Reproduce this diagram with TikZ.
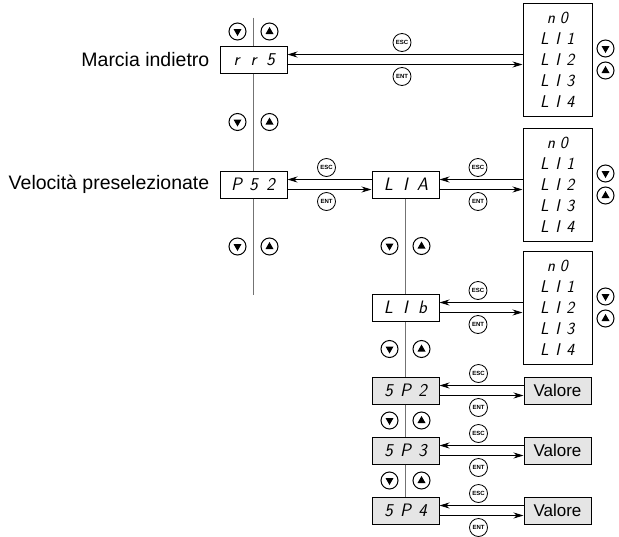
\documentclass[tikz,border=0pt]{standalone}
\usepackage{fontspec}
\setmainfont{Liberation Sans}
\usetikzlibrary{positioning,calc,arrows.meta}

\makeatletter
\newcommand\seg[2][17pt]{\@tfor\segch:=#2\do{\makebox[#1]{\segch}}}
\makeatother

\begin{document}
\begin{tikzpicture}[x=1pt, y=-1pt,
  disp/.style={draw, line width=1pt, minimum width=67pt, minimum height=27pt, inner sep=0pt, font=\sffamily\slshape\fontsize{18}{20}\selectfont},
  spbox/.style={disp, fill=black!10},
  lst/.style={draw, line width=1pt, minimum width=69pt, minimum height=113pt, inner sep=0pt, align=center, font=\sffamily\slshape\fontsize{17}{21}\selectfont},
  val/.style={draw, line width=1pt, fill=black!10, minimum width=67pt, minimum height=27pt, inner sep=0pt, font=\fontsize{17}{19}\selectfont},
  lbl/.style={inner sep=0pt, font=\fontsize{19.5}{22}\selectfont},
  btn/.style={circle, draw, line width=.8pt, minimum size=18pt, inner sep=0pt, font=\bfseries\fontsize{6}{6}\selectfont},
  keydn/.style={circle, draw, line width=1pt, minimum size=17pt, inner sep=0pt,
    path picture={\fill ([shift={(-4pt,2.5pt)}]path picture bounding box.center) -- ++(8pt,0pt) -- ++(-4pt,-7pt) -- cycle;}},
  keyup/.style={circle, draw, line width=1pt, minimum size=17pt, inner sep=0pt,
    path picture={\fill ([shift={(-4pt,-2.5pt)}]path picture bounding box.center) -- ++(8pt,0pt) -- ++(-4pt,7pt) -- cycle;}},
  arr/.style={-{Stealth[length=10pt,width=6pt]}, line width=.8pt},
  vline/.style={draw=black!55, line width=1pt}
]
\useasboundingbox (0,0) rectangle (619,536);

\node[disp] (rrs) at (253.5,59.5) {\seg{rr5}};
\node[disp, below=97pt of rrs] (ps2) {\seg{P52}};
\node[disp, right=84pt of ps2] (lia) {\seg{LIA}};
\node[disp, below=95pt of lia] (lib) {\seg{LIb}};
\node[spbox, below=55pt of lib] (sp2) {\seg{5P2}};
\node[spbox, below=32pt of sp2] (sp3) {\seg{5P3}};
\node[spbox, below=32pt of sp3] (sp4) {\seg{5P4}};

\node[lst, right=83pt of lia] (lst2) {\seg[13pt]{n0}\\\seg[13pt]{LI1}\\\seg[13pt]{LI2}\\\seg[13pt]{LI3}\\\seg[13pt]{LI4}};
\node[lst] (lst1) at (lst2 |- rrs) {\seg[13pt]{n0}\\\seg[13pt]{LI1}\\\seg[13pt]{LI2}\\\seg[13pt]{LI3}\\\seg[13pt]{LI4}};
\node[lst, right=83pt of lib] (lst3) {\seg[13pt]{n0}\\\seg[13pt]{LI1}\\\seg[13pt]{LI2}\\\seg[13pt]{LI3}\\\seg[13pt]{LI4}};

\node[val, right=84pt of sp2] (v2) {Valore};
\node[val, right=84pt of sp3] (v3) {Valore};
\node[val, right=84pt of sp4] (v4) {Valore};

\node[lbl, left=10pt of rrs] (lblrrs) {Marcia indietro};
\node[lbl, left=10pt of ps2] (lblps2) {Velocità preselezionate};

\coordinate[above=28pt of rrs] (t1);
\coordinate[below=96pt of ps2] (b1);
\draw[vline] (t1) -- (rrs) (rrs) -- (ps2) (ps2) -- (b1);
\draw[vline] (lia) -- (lib) -- (sp2) -- (sp3) -- (sp4);

\foreach \a/\b/\k in {t1/rrs.north/a, rrs.south/ps2.north/b, ps2.south/b1/c, lia.south/lib.north/d,
                      lib.south/sp2.north/e, sp2.south/sp3.north/f, sp3.south/sp4.north/g} {
  \node[keydn] (\k dn) at ($(\a)!.5!(\b)+(-16,0)$) {};
  \node[keyup] (\k up) at ($(\a)!.5!(\b)+(16,0)$) {};
}
\foreach \n in {lst1, lst2, lst3} {
  \node[keydn] (\n dn) at ([shift={(13pt,11pt)}]\n.east) {};
  \node[keyup] (\n up) at ([shift={(13pt,-11pt)}]\n.east) {};
}

\foreach \l/\r/\k in {rrs/lst1/p, ps2/lia/q, lia/lst2/r, lib/lst3/s, sp2/v2/t, sp3/v3/u, sp4/v4/w} {
  \draw[arr] ([yshift=5pt]\r.west) -- ([yshift=5pt]\l.east);
  \draw[arr] ([yshift=-5pt]\l.east) -- ([yshift=-5pt]\r.west);
  \node[btn] (\k esc) at ($(\l.east)!.5!(\r.west)+(-3,-17)$) {ESC};
  \node[btn] (\k ent) at ($(\l.east)!.5!(\r.west)+(-3,17)$) {ENT};
}
\end{tikzpicture}
\end{document}
